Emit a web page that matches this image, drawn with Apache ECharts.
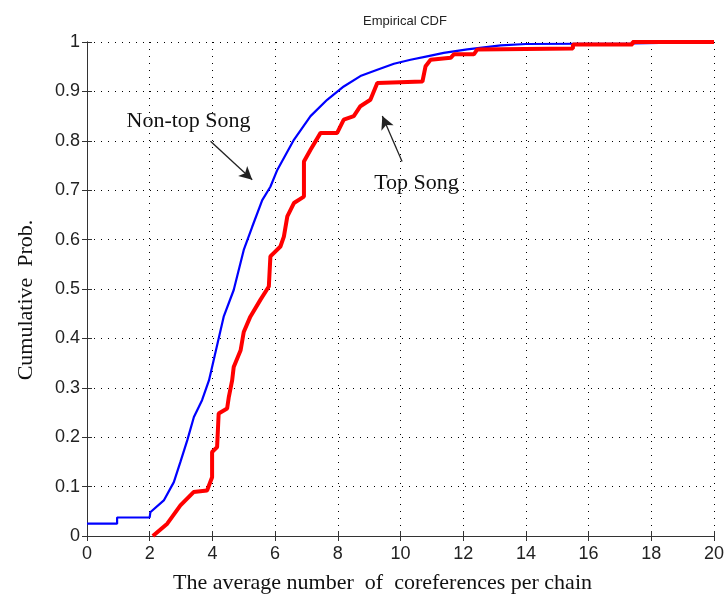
<!DOCTYPE html>
<html>
<head>
<meta charset="utf-8">
<script src="https://cdn.jsdelivr.net/npm/echarts@6/dist/echarts.min.js"></script>
<style>
  html, body { margin: 0; padding: 0; background: #fff; }
  #chart { width: 726px; height: 597px; }
</style>
</head>
<body>
<div id="chart"></div>
<script>
// empirical CDF points: [x, cumulative prob]
var nonTopSong = [
  [0, 0.025], [0.96, 0.025], [0.96, 0.0375], [2.0, 0.0375], [2.02, 0.048],
  [2.45, 0.072], [2.77, 0.109], [2.98, 0.15], [3.2, 0.194], [3.41, 0.241],
  [3.67, 0.275], [3.89, 0.315], [4.04, 0.356], [4.36, 0.444], [4.68, 0.498],
  [5.0, 0.579], [5.27, 0.626], [5.59, 0.68], [5.85, 0.707], [6.07, 0.741],
  [6.6, 0.802], [7.13, 0.85], [7.66, 0.883], [8.19, 0.91], [8.72, 0.931],
  [9.26, 0.944], [9.79, 0.956], [10.32, 0.964], [10.85, 0.971], [11.38, 0.978],
  [12.13, 0.985], [13.2, 0.993], [14, 0.996], [17.4, 0.997], [17.4, 1], [20, 1]
]
var topSong = [
  [2.1, 0], [2.56, 0.025], [2.98, 0.062], [3.4, 0.089], [3.83, 0.092],
  [3.99, 0.119], [3.99, 0.17], [4.15, 0.18], [4.2, 0.248], [4.47, 0.258],
  [4.52, 0.28], [4.63, 0.315], [4.68, 0.342], [4.9, 0.376], [5.0, 0.413],
  [5.21, 0.444], [5.53, 0.478], [5.8, 0.505], [5.85, 0.566], [6.17, 0.586],
  [6.28, 0.606], [6.39, 0.647], [6.6, 0.674], [6.92, 0.687], [6.92, 0.758],
  [7.13, 0.782], [7.45, 0.816], [7.98, 0.816], [8.19, 0.843], [8.51, 0.85],
  [8.72, 0.87], [9.04, 0.883], [9.26, 0.917], [10.7, 0.92], [10.8, 0.951],
  [10.96, 0.964], [11.6, 0.968], [11.7, 0.975], [12.34, 0.975], [12.45, 0.985],
  [15.5, 0.987], [15.5, 0.995], [17.4, 0.995], [17.4, 1], [20, 1]
]
var xTicks = [0, 2, 4, 6, 8, 10, 12, 14, 16, 18, 20]
var yTicks = [0, 0.1, 0.2, 0.3, 0.4, 0.5, 0.6, 0.7, 0.8, 0.9, 1]

// annotation positions in data units
var nonTopLabel = [3.24, 0.84]
var nonTopArrow = [[3.94, 0.799], [5.27, 0.721]]
var topLabel = [10.51, 0.715]
var topArrow = [[10.05, 0.758], [9.42, 0.85]]

var serif = '"Liberation Serif", "DejaVu Serif", serif'
var sans = '"Liberation Sans", Arial, sans-serif'

var chart = echarts.init(document.getElementById('chart'))

var axisCommon = {
  type: 'value',
  axisLine: { show: true, lineStyle: { color: '#333', width: 1 } },
  axisTick: { show: true, inside: true, length: 5, lineStyle: { color: '#333' } }
}

function annotation(label, pos, arrow) {
  return {
    type: 'line',
    data: [],
    silent: true,
    markPoint: {
      symbol: 'circle',
      symbolSize: 0,
      label: {
        show: true,
        position: 'inside',
        formatter: label,
        fontFamily: serif,
        fontSize: 22,
        color: '#111'
      },
      data: [{ coord: pos }]
    },
    markLine: {
      symbol: ['none', 'arrow'],
      symbolSize: [10, 13],
      label: { show: false },
      lineStyle: { color: '#222', width: 1.3, type: 'solid' },
      data: [[{ coord: arrow[0] }, { coord: arrow[1] }]]
    }
  }
}

chart.setOption({
  animation: false,
  backgroundColor: '#fff',
  title: {
    text: 'Empirical CDF',
    left: 400,
    top: 10,
    textAlign: 'center',
    textStyle: { fontFamily: sans, fontSize: 13, fontWeight: 'normal', color: '#222' }
  },
  grid: { left: 87, right: 12, top: 42, bottom: 61, outerBoundsMode: 'none', containLabel: false },
  xAxis: [
    Object.assign({}, axisCommon, {
      min: xTicks[0], max: xTicks[xTicks.length - 1], interval: 2,
      position: 'bottom',
      name: 'The average number  of  coreferences per chain',
      nameLocation: 'middle',
      nameGap: 36,
      nameTextStyle: { fontFamily: serif, fontSize: 22, color: '#111', padding: [0, 36, 0, 0] },
      axisLabel: { fontFamily: sans, fontSize: 18, color: '#222', margin: 9 },
      splitLine: { show: true, lineStyle: { color: '#000', type: [1, 6], width: 1 } }
    }),
    Object.assign({}, axisCommon, {
      min: xTicks[0], max: xTicks[xTicks.length - 1], interval: 2,
      position: 'top',
      axisLabel: { show: false },
      splitLine: { show: false }
    })
  ],
  yAxis: [
    Object.assign({}, axisCommon, {
      min: yTicks[0], max: yTicks[yTicks.length - 1], interval: 0.1,
      position: 'left',
      name: 'Cumulative  Prob.',
      nameLocation: 'middle',
      nameGap: 50,
      nameTextStyle: { fontFamily: serif, fontSize: 22, color: '#111', padding: [0, 22, 0, 0] },
      axisLabel: {
        fontFamily: sans, fontSize: 18, color: '#222', margin: 7,
        formatter: function (v) { return String(Math.round(v * 10) / 10) }
      },
      splitLine: { show: true, lineStyle: { color: '#000', type: [1, 6], width: 1 } }
    }),
    Object.assign({}, axisCommon, {
      min: yTicks[0], max: yTicks[yTicks.length - 1], interval: 0.1,
      position: 'right',
      axisLabel: { show: false },
      splitLine: { show: false }
    })
  ],
  series: [
    {
      name: 'Non-top Song',
      type: 'line',
      data: nonTopSong,
      symbol: 'none',
      lineStyle: { color: '#0000ff', width: 2.2 },
      z: 3
    },
    {
      name: 'Top Song',
      type: 'line',
      data: topSong,
      symbol: 'none',
      lineStyle: { color: '#ff0000', width: 4 },
      z: 4
    },
    annotation('Non-top Song', nonTopLabel, nonTopArrow),
    annotation('Top Song', topLabel, topArrow)
  ]
})
</script>
</body>
</html>
